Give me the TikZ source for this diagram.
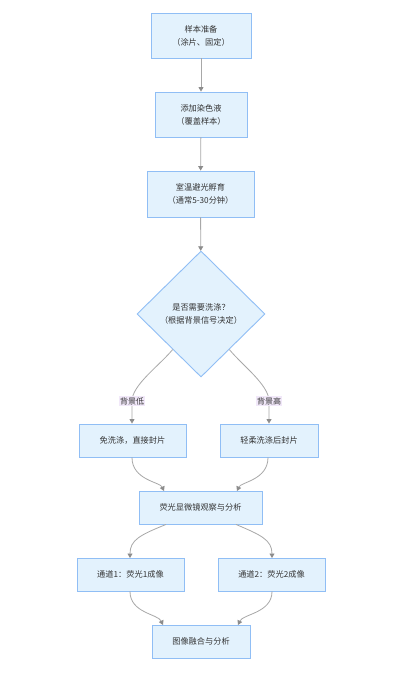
\documentclass[tikz,border=0pt]{standalone}
\usepackage{fontspec}
\newfontfamily\cjk{Noto Sans CJK SC}
\usetikzlibrary{shapes.geometric,arrows.meta,calc}
\definecolor{boxfill}{HTML}{E3F2FD}
\definecolor{boxline}{HTML}{90BEF5}
\definecolor{edgecol}{HTML}{A8A8A8}
\definecolor{tipcol}{HTML}{8C8C8C}
\definecolor{txt}{HTML}{333333}
\definecolor{lblbg}{HTML}{F1E8F9}
\tikzset{
  x=1pt, y=-1pt,
  box/.style={draw=boxline, fill=boxfill, line width=0.9pt, rectangle, align=center,
    inner sep=0pt, text=txt, font=\cjk\fontsize{8.2}{13}\selectfont},
  dec/.style={draw=boxline, fill=boxfill, line width=0.9pt, diamond, align=center,
    inner sep=0pt, text=txt, font=\cjk\fontsize{8.2}{13}\selectfont,
    minimum width=128pt, minimum height=126pt},
  edge/.style={draw=edgecol, line width=0.8pt, -{Triangle[length=4.5pt,width=5pt,color=tipcol]}},
  lbl/.style={fill=lblbg, inner sep=1.2pt, text=txt, font=\cjk\fontsize{8}{10}\selectfont},
}
\begin{document}
\begin{tikzpicture}
\fill[white] (0,0) rectangle (400,678);
\useasboundingbox (0,0) rectangle (400,678);

\node[box, minimum width=100pt, minimum height=45pt] (b1) at (201,35.5) {样本准备\\（涂片、固定）};
\node[box, minimum width=92pt, minimum height=45pt] (b2) at (201,114.5) {添加染色液\\（覆盖样本）};
\node[box, minimum width=107pt, minimum height=46pt] (b3) at (200.5,194) {室温避光孵育\\（通常5-30分钟）};
\node[dec] (d) at (201,314) {是否需要洗涤？\\（根据背景信号决定）};
\node[box, minimum width=107pt, minimum height=33pt] (b4) at (132.5,440.5) {免洗涤，直接封片};
\node[box, minimum width=98pt, minimum height=33pt] (b5) at (269,440.5) {轻柔洗涤后封片};
\node[box, minimum width=123pt, minimum height=33pt] (b6) at (200.5,507.5) {荧光显微镜观察与分析};
\node[box, minimum width=107pt, minimum height=33pt] (b7) at (130.5,574.5) {通道1：荧光1成像};
\node[box, minimum width=107pt, minimum height=33pt] (b8) at (271.5,574.5) {通道2：荧光2成像};
\node[box, minimum width=98pt, minimum height=33pt] (b9) at (201,641.5) {图像融合与分析};

\draw[edge] (b1) -- (b2);
\draw[edge] (b2) -- (b3);
\draw[edge] (b3) -- (d);

\draw[edge] ($(d.west)!0.56!(d.south)$) .. controls (160,365) and (132,385) .. (132,401)
  node[lbl] (l1) {背景低} -- (b4.north -| 132,0);
\draw[edge] ($(d.east)!0.56!(d.south)$) .. controls (242,365) and (269,385) .. (269,401)
  node[lbl] (l2) {背景高} -- (b5.north -| 269,0);

\draw[edge] (b4.south -| 132,0) .. controls (132,480) and (160,482) .. (164,491);
\draw[edge] (b5.south -| 268,0) .. controls (268,480) and (241,482) .. (237,491);

\draw[edge] ($(b6.south)+(-34.5,0)$) .. controls (140,535) and (130,540) .. (130,558);
\draw[edge] ($(b6.south)+(35.5,0)$) .. controls (261,535) and (272,540) .. (272,558);

\draw[edge] (b7.south -| 130,0) .. controls (130,613) and (158,614) .. (163,625);
\draw[edge] (b8.south -| 272,0) .. controls (272,613) and (243,614) .. (238,625);
\end{tikzpicture}
\end{document}
